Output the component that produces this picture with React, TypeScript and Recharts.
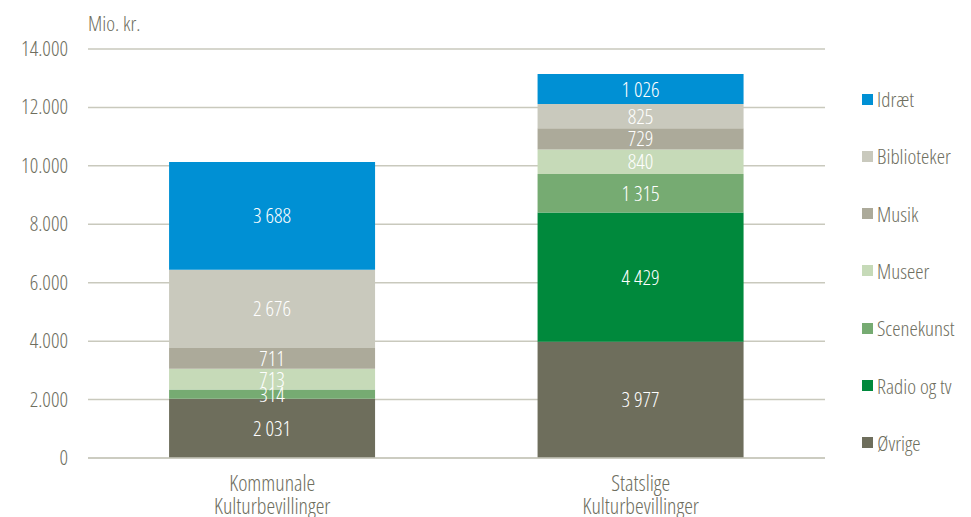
import React from 'react';
import { BarChart, Bar, XAxis, YAxis, CartesianGrid, LabelList } from 'recharts';

const categories = [['Kommunale', 'Kulturbevillinger'], ['Statslige', 'Kulturbevillinger']];
const oevrige = [2031, 3977];
const radioTv = [0, 4429];
const scenekunst = [314, 1315];
const museer = [713, 840];
const musik = [711, 729];
const biblioteker = [2676, 825];
const idraet = [3688, 1026];
const yTicks = [0, 2000, 4000, 6000, 8000, 10000, 12000, 14000];

const series = [
  { key: 'oevrige', name: 'Øvrige', values: oevrige, color: '#6e6e5c' },
  { key: 'radioTv', name: 'Radio og tv', values: radioTv, color: '#00893c' },
  { key: 'scenekunst', name: 'Scenekunst', values: scenekunst, color: '#76ab72' },
  { key: 'museer', name: 'Museer', values: museer, color: '#c6dab8' },
  { key: 'musik', name: 'Musik', values: musik, color: '#acaa9a' },
  { key: 'biblioteker', name: 'Biblioteker', values: biblioteker, color: '#c9c9bd' },
  { key: 'idraet', name: 'Idræt', values: idraet, color: '#0090d4' },
];

const data = categories.map((c, i) => {
  const row: Record<string, string | number> = { name: c.join('\n') };
  series.forEach((s) => { row[s.key] = s.values[i]; });
  return row;
});

const FONT = '"Open Sans", sans-serif';
const STRETCH = '80%';
const TEXT = '#6e6e5e';
const txtStyle = { fontStretch: STRETCH, fontWeight: 300 } as React.CSSProperties;

const fmtTick = (v: number) => v.toString().replace(/\B(?=(\d{3})+(?!\d))/g, '.');
const fmtLabel = (v: unknown) => {
  const n = Number(v);
  if (!n) return '';
  return n.toString().replace(/\B(?=(\d{3})+(?!\d))/g, ' ');
};

function YTick({ y, payload }: any) {
  return (
    <text x={68} y={y} dy={7} textAnchor="end" fill={TEXT} fontSize={21} fontFamily={FONT} style={txtStyle}>
      {fmtTick(payload.value)}
    </text>
  );
}

// two-line category labels; baseline measured from the axis line
function XTick({ x, payload }: any) {
  const lines = String(payload.value).split('\n');
  return (
    <g>
      {lines.map((l, i) => (
        <text key={i} x={x} y={491 + i * 23} textAnchor="middle" fill={TEXT} fontSize={22} fontFamily={FONT} style={txtStyle}>
          {l}
        </text>
      ))}
    </g>
  );
}

function SideLegend() {
  const items = [...series].reverse();
  return (
    <div style={{ position: 'absolute', left: 862, top: 85 }}>
      {items.map((s, i) => (
        <div key={s.key} style={{ position: 'absolute', top: i * 57.3, left: 0, display: 'flex', alignItems: 'center', whiteSpace: 'nowrap', height: 28 }}>
          <span style={{ display: 'inline-block', width: 11, height: 11, background: s.color, marginRight: 4 }} />
          <span style={{ fontFamily: FONT, fontSize: 21, color: TEXT, ...txtStyle }}>{s.name}</span>
        </div>
      ))}
    </div>
  );
}

export default function App() {
  return (
    <div style={{ position: 'absolute', left: 0, top: 0, width: 971, height: 517, background: '#fff', overflow: 'hidden' }}>
      <div style={{ position: 'absolute', left: 88, top: 9, fontFamily: FONT, fontSize: 21, color: TEXT, ...txtStyle }}>Mio. kr.</div>
      <BarChart width={971} height={517} data={data} margin={{ top: 49, right: 146, left: 0, bottom: 0 }} barCategoryGap="22%">
        <CartesianGrid vertical={false} stroke="#c9c9bd" strokeWidth={1.5} />
        <XAxis dataKey="name" tick={<XTick />} tickLine={false} axisLine={{ stroke: '#c9c9bd', strokeWidth: 1.5 }} height={59} interval={0} />
        <YAxis width={88} domain={[0, 14000]} ticks={yTicks} tick={<YTick />} tickLine={false} axisLine={false} />
        {series.map((s) => (
          <Bar key={s.key} dataKey={s.key} name={s.name} stackId="a" fill={s.color} isAnimationActive={false}>
            <LabelList dataKey={s.key} position="center" formatter={fmtLabel} fill="#ffffff" fontSize={21} fontFamily={FONT} style={txtStyle} />
          </Bar>
        ))}
      </BarChart>
      <SideLegend />
    </div>
  );
}
